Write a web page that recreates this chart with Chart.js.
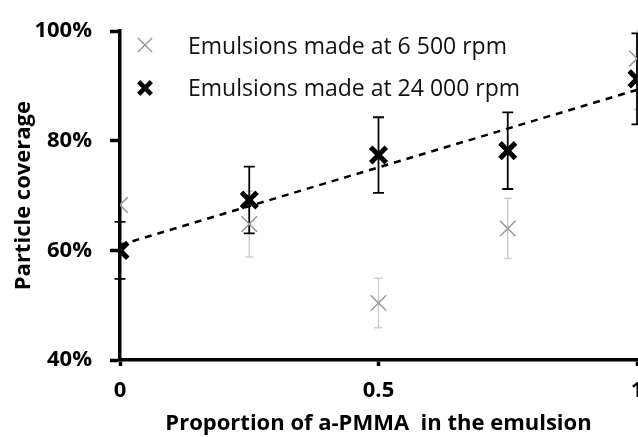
<!DOCTYPE html>
<html>
<head>
<meta charset="utf-8">
<script src="https://cdn.jsdelivr.net/npm/chart.js@4"></script>
<style>
  html, body { margin: 0; padding: 0; background: #fff; overflow: hidden; }
  #wrap { width: 680px; height: 437px; }
</style>
</head>
<body>
<div id="wrap"><canvas id="plot" width="680" height="437"></canvas></div>
<script>
const proportions = [0, 0.25, 0.5, 0.75, 1];
const coverage6500 = [68.3, 64.8, 50.4, 64, 95];
const error6500 = [0, 6, 4.5, 5.5, 9.3];
const coverage24000 = [60, 69.2, 77.4, 78.2, 91.3];
const error24000 = [5.2, 6.1, 6.9, 7, 8.3];
const trendX = [0, 1];
const trendY = [61, 89.3];
const seriesNames = ['Emulsions made at 6 500 rpm', 'Emulsions made at 24 000 rpm'];

Chart.defaults.font.family = '"Open Sans", sans-serif';
Chart.defaults.color = '#000';

function toPoints(xs, ys) {
  return xs.map((x, i) => ({ x: x, y: ys[i] }));
}

// vertical error bars with caps, drawn under the markers
const errorBars = {
  id: 'errorBars',
  beforeDatasetsDraw(chart) {
    const ctx = chart.ctx;
    const xs = chart.scales.x, ys = chart.scales.y;
    const area = chart.chartArea;
    ctx.save();
    ctx.beginPath();
    ctx.rect(0, area.top - 1, chart.width, area.height + 2);
    ctx.clip();
    chart.data.datasets.forEach(ds => {
      if (!ds.errors) return;
      ctx.strokeStyle = ds.errorColor;
      ctx.lineWidth = ds.errorWidth;
      ds.data.forEach((p, j) => {
        if (!ds.errors[j]) return;
        const x = xs.getPixelForValue(p.x);
        const top = ys.getPixelForValue(p.y + ds.errors[j]);
        const bot = ys.getPixelForValue(p.y - ds.errors[j]);
        const c = ds.capHalf;
        ctx.beginPath();
        ctx.moveTo(x, top); ctx.lineTo(x, bot);
        ctx.moveTo(x - c, top); ctx.lineTo(x + c, top);
        ctx.moveTo(x - c, bot); ctx.lineTo(x + c, bot);
        ctx.stroke();
      });
    });
    ctx.restore();
  }
};

// legend sits inside the plot, top left
const insideLegend = {
  id: 'insideLegend',
  afterDraw(chart) {
    const ctx = chart.ctx;
    const rows = chart.data.datasets.filter(ds => ds.inLegend);
    const rowY = [45, 88];
    const baseY = [54, 96];
    ctx.save();
    ctx.font = '23px "Open Sans"';
    ctx.textBaseline = 'alphabetic';
    rows.forEach((ds, i) => {
      ctx.strokeStyle = ds.borderColor;
      ctx.fillStyle = ds.borderColor;
      ctx.lineWidth = ds.legendWidth;
      Chart.helpers.drawPoint(ctx, { pointStyle: 'crossRot', radius: ds.legendRadius, borderWidth: ds.legendWidth, rotation: 0 }, 145, rowY[i]);
      ctx.fillStyle = '#111';
      ctx.fillText(ds.label, 188, baseY[i]);
    });
    ctx.restore();
  }
};

const ctx = document.getElementById('plot').getContext('2d');
new Chart(ctx, {
  type: 'scatter',
  data: {
    datasets: [
      {
        label: seriesNames[0],
        data: toPoints(proportions, coverage6500),
        errors: error6500,
        errorColor: '#cfcfcf',
        errorWidth: 1.5,
        capHalf: 4,
        inLegend: true,
        legendRadius: 10,
        legendWidth: 1.5,
        pointStyle: 'crossRot',
        pointRadius: 11,
        pointBorderWidth: 1.5,
        borderColor: '#9a9a9a',
        backgroundColor: '#9a9a9a',
        order: 2
      },
      {
        label: seriesNames[1],
        data: toPoints(proportions, coverage24000),
        errors: error24000,
        errorColor: '#000',
        errorWidth: 1.8,
        capHalf: 5.5,
        inLegend: true,
        legendRadius: 9,
        legendWidth: 4.5,
        pointStyle: 'crossRot',
        pointRadius: 11,
        pointBorderWidth: 5,
        borderColor: '#000',
        backgroundColor: '#000',
        order: 0
      },
      {
        label: 'trend',
        data: toPoints(trendX, trendY),
        showLine: true,
        borderColor: '#000',
        borderWidth: 2.5,
        borderDash: [7, 6],
        pointRadius: 0,
        order: 1
      }
    ]
  },
  options: {
    responsive: false,
    animation: false,
    layout: { padding: { top: 25, right: 43, bottom: 0, left: 0 } },
    plugins: {
      legend: { display: false },
      tooltip: { enabled: false }
    },
    scales: {
      x: {
        type: 'linear',
        min: 0,
        max: 1,
        ticks: {
          stepSize: 0.5,
          font: { size: 22, weight: 'bold' },
          color: '#000',
          padding: 12,
          callback: v => String(v)
        },
        grid: { drawOnChartArea: false, drawTicks: true, tickLength: 6, tickWidth: 3.5, tickColor: '#000' },
        border: { display: true, color: '#000', width: 3.5 },
        title: {
          display: true,
          text: 'Proportion of a-PMMA  in the emulsion',
          font: { size: 22, weight: 'bold' },
          color: '#000',
          padding: { top: 0, bottom: 0 }
        },
        afterFit(scale) { scale.height = 77; }
      },
      y: {
        min: 40,
        max: 100,
        ticks: {
          stepSize: 20,
          font: { size: 22, weight: 'bold' },
          color: '#000',
          padding: 18,
          callback: v => v + '%'
        },
        grid: { drawOnChartArea: false, drawTicks: true, tickLength: 10, tickWidth: 3.5, tickColor: '#000' },
        border: { display: true, color: '#000', width: 3.5 },
        title: {
          display: true,
          text: 'Particle coverage',
          font: { size: 22, weight: 'bold' },
          color: '#000',
          padding: { top: 11, bottom: 0 }
        },
        afterFit(scale) { scale.width = 120; }
      }
    }
  },
  plugins: [errorBars, insideLegend]
});
</script>
</body>
</html>
